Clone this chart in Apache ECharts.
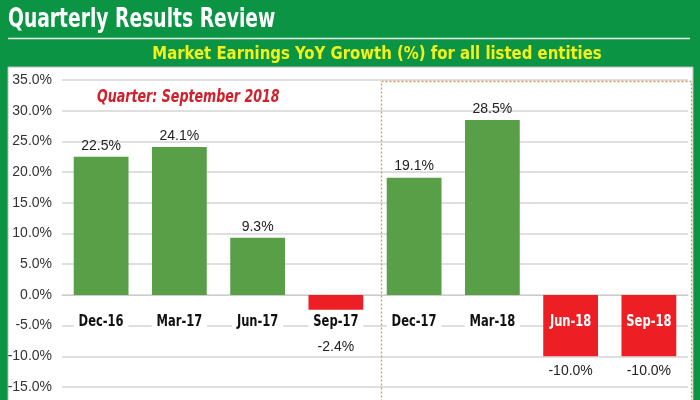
<!DOCTYPE html>
<html>
<head>
<meta charset="utf-8">
<script src="https://cdn.jsdelivr.net/npm/echarts@6/dist/echarts.min.js"></script>
<style>html,body{margin:0;padding:0;background:#0b9444;}#c{width:700px;height:400px;}</style>
</head>
<body>
<div id="c"></div>
<script>
var categories = ['Dec-16', 'Mar-17', 'Jun-17', 'Sep-17', 'Dec-17', 'Mar-18', 'Jun-18', 'Sep-18'];
var growth = [22.5, 24.1, 9.3, -2.4, 19.1, 28.5, -10.0, -10.0];
var yTicks = { min: -15, max: 35, interval: 5 };

var NARROW = '"Liberation Sans Narrow", "DejaVu Sans Condensed", Arial, sans-serif';
var GREEN = '#589f47', RED = '#ed1f24';

var chart = echarts.init(document.getElementById('c'), null, { renderer: 'canvas' });

var barData = growth.map(function (v) {
  var item = { value: v, itemStyle: { color: v >= 0 ? GREEN : RED } };
  if (v < 0) {
    item.label = { position: 'bottom', distance: v > -5 ? 31 : 8 };
  }
  return item;
});

var labelData = categories.map(function (c, i) { return [i, 0, growth[i]]; });

chart.setOption({
  backgroundColor: '#0b9444',
  animation: false,
  graphic: [
    { type: 'rect', z: -10, shape: { x: 8, y: 67, width: 685, height: 340 }, style: { fill: '#ffffff', stroke: '#bbbbbb', lineWidth: 1 } },
    { type: 'line', shape: { x1: 8, y1: 38.5, x2: 690, y2: 38.5 }, style: { stroke: '#e6f5e6', lineWidth: 1.5 } },
    { type: 'text', x: 8, y: 20, scaleX: 0.8, style: { text: 'Quarterly Results Review', fill: '#ffffff', font: 'bold 26px ' + NARROW, verticalAlign: 'middle' } },
    { type: 'text', x: 377, y: 54, scaleX: 0.92, style: { text: 'Market Earnings YoY Growth (%) for all listed entities', fill: '#f2f21a', font: 'bold 18px ' + NARROW, align: 'center', verticalAlign: 'middle' } },
    { type: 'text', x: 97, y: 97, scaleX: 0.78, style: { text: 'Quarter: September 2018', fill: '#d1202b', font: 'italic bold 18px ' + NARROW, verticalAlign: 'middle' } },
    { type: 'rect', z: 5, shape: { x: 381.5, y: 81.5, width: 310, height: 330 }, style: { fill: 'none', stroke: '#d49a55', lineWidth: 1.3, lineDash: [2, 2] } }
  ],
  grid: { left: 62, right: 12, top: 80, bottom: 13, outerBoundsMode: 'none', containLabel: false },
  xAxis: {
    type: 'category',
    data: categories,
    axisLine: { onZero: true, lineStyle: { color: '#cccccc', width: 1 } },
    axisTick: { show: false },
    axisLabel: { show: false }
  },
  yAxis: {
    type: 'value',
    min: yTicks.min,
    max: yTicks.max,
    interval: yTicks.interval,
    axisLine: { show: false },
    axisTick: { show: false },
    splitLine: { lineStyle: { color: '#d4d4d4', width: 1.5 } },
    axisLabel: {
      margin: 10,
      color: '#333333',
      fontFamily: 'Liberation Sans, Arial, sans-serif',
      fontSize: 14,
      formatter: function (v) { return v.toFixed(1) + '%'; }
    }
  },
  series: [{
    type: 'bar',
    data: barData,
    barWidth: '70%',
    label: {
      show: true,
      position: 'top',
      distance: 4,
      color: '#222222',
      fontFamily: 'Liberation Sans, Arial, sans-serif',
      fontSize: 14,
      formatter: function (p) { return p.value.toFixed(1) + '%'; }
    }
  }, {
    type: 'custom',
    data: labelData,
    z: 10,
    silent: true,
    renderItem: function (params, api) {
      var idx = api.value(0);
      var pt = api.coord([idx, api.value(1)]);
      var onRed = api.value(2) <= -5;
      return {
        type: 'text',
        x: pt[0],
        y: pt[1] + 27,
        scaleX: 0.8,
        style: {
          text: categories[idx],
          font: 'bold 16px ' + NARROW,
          fill: onRed ? '#ffffff' : '#111111',
          align: 'center',
          verticalAlign: 'middle',
          backgroundColor: onRed ? 'transparent' : '#ffffff',
          padding: [2, 6]
        }
      };
    }
  }]
});
</script>
</body>
</html>
